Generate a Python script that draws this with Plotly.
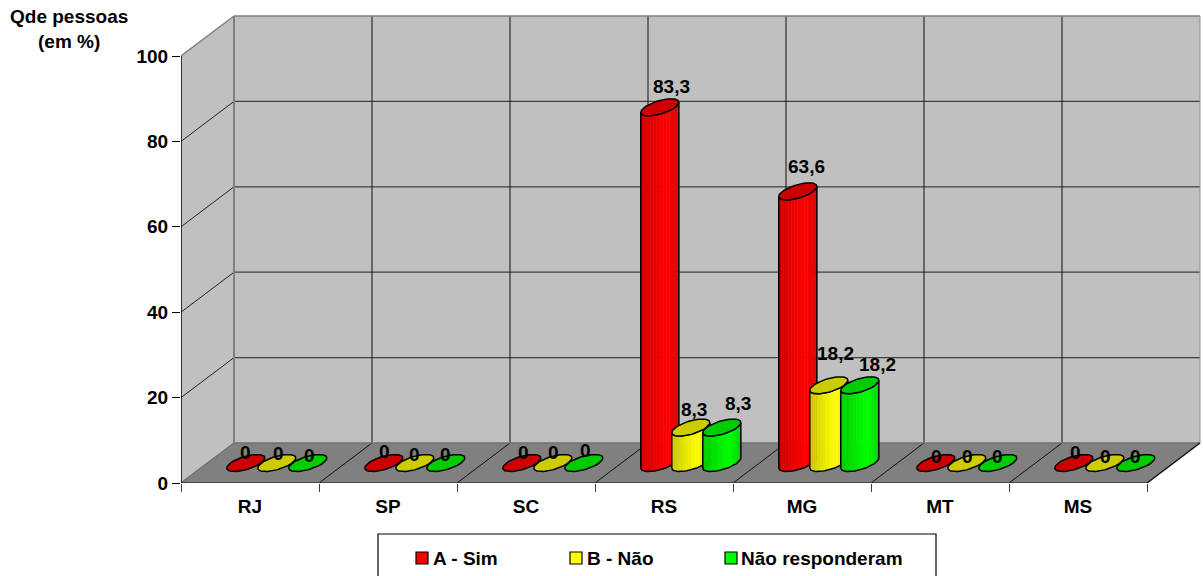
import numpy as np
import plotly.graph_objects as go

# ---- data ----
categories = ["RJ", "SP", "SC", "RS", "MG", "MT", "MS"]
series_names = ["A - Sim", "B - Não", "Não responderam"]
sim = [0, 0, 0, 83.3, 63.6, 0, 0]
nao = [0, 0, 0, 8.3, 18.2, 0, 0]
nao_resp = [0, 0, 0, 8.3, 18.2, 0, 0]
y_ticks = [0, 20, 40, 60, 80, 100]

# ---- style / geometry ----
FONT = dict(family="Liberation Sans, Arial, sans-serif", size=19, color="black", weight=700)
PX_X = 138.0      # pixels per category
PX_Y = 4.27       # pixels per value unit
DX = 53 / PX_X    # depth vector of the 3D box
DY = 40 / PX_Y
L, T, B, W, H = 181, 10, 93, 1203, 576
plot_w, plot_h = W - L, H - T - B
colors = [(255, 0, 0), (255, 255, 0), (0, 255, 0)]
GROUP_STEP = 31 / PX_X
A = 15.3 / PX_X        # ellipse x half-vector
BX = 11.3 / PX_X       # ellipse depth vector
BY = 8.5 / PX_Y
T0 = np.arctan2(BX, A)
NUDGE_X = 0.3 / PX_X

# label nudges in pixels relative to the top of each cylinder (series, category)
nudges = [
    [(-0.5, 11), (0.5, 12), (1.5, 11), (12, 21), (8.5, 25), (0.5, 7), (1.5, 11)],
    [(1.5, 10), (0, 9), (0.5, 11), (3.5, 18), (6.5, 32), (0.5, 7), (0.5, 7)],
    [(1.5, 8), (0, 9), (1.5, 13), (16, 24.5), (17.5, 21), (-0.5, 7), (-0.5, 7)],
]


def px(x):
    return (x - L) / plot_w


def py(y):
    return (H - B - y) / plot_h


fig = go.Figure()
shapes = []


def poly(xs, ys, fill, line=None, lw=0):
    path = "M" + "L".join(f"{a},{b}" for a, b in zip(xs, ys)) + "Z"
    shapes.append(dict(type="path", path=path, xref="x", yref="y", fillcolor=fill,
                       line=dict(color=line or fill, width=lw), layer="below"))


def seg(x0, y0, x1, y1, color, lw=1):
    fig.add_trace(go.Scatter(x=[x0, x1], y=[y0, y1], mode="lines", cliponaxis=False,
                             line=dict(color=color, width=lw), hoverinfo="skip", showlegend=False))


n = len(categories)
top = y_ticks[-1]
# walls and floor
poly([DX, n + DX, n + DX, DX], [DY, DY, top + DY, top + DY], "#C0C0C0")
poly([0, DX, DX, 0], [0, DY, top + DY, top], "#C0C0C0")
poly([0, n, n + DX, DX], [0, 0, DY, DY], "#808080")

# gridlines
for v in y_ticks[1:-1]:
    seg(DX, v + DY, n + DX, v + DY, "#404040", 1.2)
    seg(0, v, DX, v + DY, "#202020", 1)
for i in range(1, n):
    seg(i + DX, DY, i + DX, top + DY, "#101010", 1)
    seg(i, 0, i + DX, DY, "#101010", 1)
# box edges
seg(DX, DY, n + DX, DY, "#707070", 1.5)
seg(DX, top + DY, n + DX, top + DY, "#808080", 1.5)
seg(DX, DY, DX, top + DY, "#808080", 2)
seg(0, top, DX, top + DY, "#808080", 1.5)
seg(0, 0, DX, DY, "#707070", 1.5)
seg(n + DX, DY, n + DX, top + DY, "#909090", 1)
seg(n, 0, n + DX, DY, "#101010", 1.5)
seg(0, 0, n, 0, "#303030", 1.5)
seg(0, 0, 0, top, "black", 1.5)


def ell(cx, cy, ts):
    return cx + A * np.cos(ts) + BX * np.sin(ts), cy + BY * np.sin(ts)


def rgb(c, s):
    return "rgb(%d,%d,%d)" % tuple(int(round(k * s)) for k in c)


def shade(u):
    return float(np.interp(u, [0, 0.6, 0.72, 1], [0.8, 0.98, 1.0, 0.84]))


values = [sim, nao, nao_resp]
full = np.linspace(0, 2 * np.pi, 61)
labels = []
for ci in range(n):
    for si, vals in enumerate(values):
        v = vals[ci]
        cx = ci + 0.5 + DX / 2 + (si - 1) * GROUP_STEP + NUDGE_X
        cy = DY / 2
        col = colors[si]
        if v > 0:
            edges = np.linspace(T0 + np.pi, T0 + 2 * np.pi, 19)
            for k in range(len(edges) - 1):
                ts = np.linspace(edges[k], edges[k + 1], 3)
                bx, by = ell(cx, cy, ts)
                tx, ty = ell(cx, cy + v, ts[::-1])
                u = (bx.mean() - (cx - np.hypot(A, BX))) / (2 * np.hypot(A, BX))
                fig.add_trace(go.Scatter(
                    x=np.r_[bx, tx, bx[0]], y=np.r_[by, ty, by[0]], mode="lines", fill="toself",
                    fillcolor=rgb(col, shade(u)), line=dict(color=rgb(col, shade(u)), width=0.5),
                    hoverinfo="skip", showlegend=False))
            arc = np.linspace(T0 + np.pi, T0 + 2 * np.pi, 31)
            bx, by = ell(cx, cy, arc)
            tx, ty = ell(cx, cy + v, arc[::-1])
            fig.add_trace(go.Scatter(x=np.r_[bx, tx, bx[0]], y=np.r_[by, ty, by[0]], mode="lines",
                                     line=dict(color="black", width=1.5),
                                     hoverinfo="skip", showlegend=False))
        ex, ey = ell(cx, cy + v, full)
        fig.add_trace(go.Scatter(x=ex, y=ey, mode="lines", fill="toself", fillcolor=rgb(col, 0.8),
                                 line=dict(color="black", width=1.5),
                                 hoverinfo="skip", showlegend=False))
        nx, ny = nudges[si][ci]
        txt = f"{v:g}".replace(".", ",")
        labels.append(dict(x=cx, y=cy + v, xref="x", yref="y", text=txt, showarrow=False,
                           xshift=nx, yshift=ny, xanchor="center", yanchor="middle", font=FONT))

# axis title
labels.append(dict(x=px(69), y=py(28.5), xref="paper", yref="paper", text="Qde pessoas<br>(em %)",
                   showarrow=False, xanchor="center", yanchor="middle", font=FONT))

# legend box
shapes.append(dict(type="rect", xref="paper", yref="paper", x0=px(378), x1=px(936), y0=py(534), y1=py(590),
                   line=dict(color="black", width=1.2), fillcolor="white", layer="above"))
leg_marker_x = [416, 570, 725]
leg_text_x = [431, 585, 738.5]
for name, mx, tx_, col in zip(series_names, leg_marker_x, leg_text_x, colors):
    shapes.append(dict(type="rect", xref="paper", yref="paper", x0=px(mx), x1=px(mx + 12),
                       y0=py(552), y1=py(564), line=dict(color="black", width=1.2),
                       fillcolor=rgb(col, 1), layer="above"))
    labels.append(dict(x=px(tx_), y=py(558), xref="paper", yref="paper", text=name, showarrow=False,
                       xanchor="left", yanchor="middle", font=FONT))

fig.update_layout(
    width=W, height=H, margin=dict(l=L, r=0, t=T, b=B), autosize=False,
    paper_bgcolor="white", plot_bgcolor="white", showlegend=False,
    shapes=shapes, annotations=labels, font=FONT,
    xaxis=dict(range=[0, plot_w / PX_X], tickmode="array",
               tickvals=[i + 0.5 for i in range(n)], ticktext=categories,
               ticks="outside", ticklen=6, tickcolor="rgba(0,0,0,0)", showgrid=False,
               zeroline=False, showline=False, tickfont=FONT, tickangle=0,
               minor=dict(tickmode="array", tickvals=list(range(n + 1)), ticks="outside", ticklen=8,
                          tickcolor="#404040", tickwidth=1, showgrid=False)),
    yaxis=dict(range=[0, plot_h / PX_Y], tickmode="array", tickvals=y_ticks,
               ticktext=[str(t) for t in y_ticks], ticks="outside", ticklen=8, tickcolor="black",
               tickwidth=1, showgrid=False, zeroline=False, showline=False, tickfont=FONT),
)
fig.write_html("out.html", config=dict(displayModeBar=False),
               post_script="document.body.style.margin='0';document.body.style.overflow='hidden';")
